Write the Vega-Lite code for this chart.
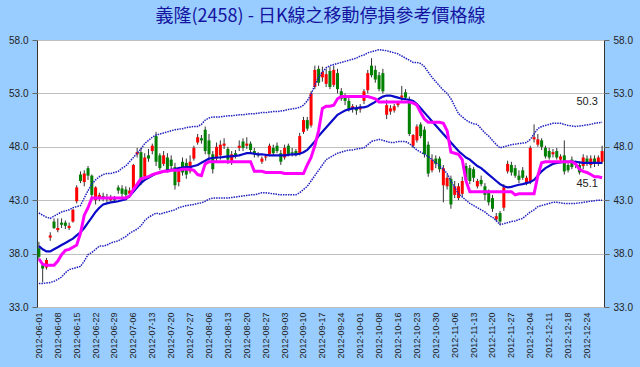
{
"$schema": "https://vega.github.io/schema/vega-lite/v6.json",
"width": 567, "height": 267,
"autosize": {"type": "none"},
"padding": {"left": 37, "right": 36, "top": 40, "bottom": 60},
"background": "#99ccff",
"config": {"view": {"fill": "white", "stroke": "#333333", "strokeWidth": 1}},
"title": {"text": "義隆(2458) - 日K線之移動停損參考價格線", "font": "Noto Sans CJK TC", "fontSize": 18, "fontWeight": "normal", "color": "#1414a0", "offset": 9, "anchor": "middle"},
"data": {"values": [
{"d":"2012-06-01","o":38.5,"h":39.1,"l":37.5,"c":37.7,"ma":38.7,"up":41.8,"lo":35.2,"st":37.5},
{"d":"2012-06-04","o":36.9,"h":37.0,"l":35.3,"c":36.6,"ma":38.4,"up":41.6,"lo":35.2,"st":37.0},
{"d":"2012-06-05","o":36.7,"h":37.6,"l":36.5,"c":37.4,"ma":38.2,"up":41.4,"lo":35.25,"st":36.9},
{"d":"2012-06-06","o":39.5,"h":40.0,"l":39.2,"c":39.7,"ma":38.2,"up":41.3,"lo":35.3,"st":36.9},
{"d":"2012-06-07","o":41.0,"h":41.3,"l":40.3,"c":40.4,"ma":38.4,"up":41.5,"lo":35.4,"st":36.9},
{"d":"2012-06-08","o":40.2,"h":41.3,"l":40.0,"c":40.4,"ma":38.6,"up":41.7,"lo":35.6,"st":37.3},
{"d":"2012-06-11","o":40.9,"h":41.3,"l":40.4,"c":40.7,"ma":38.8,"up":41.9,"lo":35.8,"st":37.9},
{"d":"2012-06-12","o":40.9,"h":41.1,"l":40.3,"c":40.6,"ma":39.0,"up":42.0,"lo":36.2,"st":38.3},
{"d":"2012-06-13","o":40.4,"h":40.9,"l":40.2,"c":40.6,"ma":39.2,"up":42.1,"lo":36.5,"st":38.4},
{"d":"2012-06-14","o":41.0,"h":42.2,"l":40.9,"c":42.1,"ma":39.4,"up":42.3,"lo":36.6,"st":38.6},
{"d":"2012-06-15","o":42.9,"h":44.4,"l":42.7,"c":44.2,"ma":39.7,"up":42.4,"lo":36.7,"st":38.8},
{"d":"2012-06-18","o":45.4,"h":45.7,"l":44.6,"c":44.8,"ma":40.0,"up":42.5,"lo":36.8,"st":39.9},
{"d":"2012-06-19","o":44.7,"h":45.8,"l":44.3,"c":45.5,"ma":40.4,"up":43.2,"lo":37.3,"st":41.6},
{"d":"2012-06-20","o":46.0,"h":46.2,"l":44.9,"c":45.3,"ma":40.9,"up":43.9,"lo":37.9,"st":42.3},
{"d":"2012-06-21","o":45.3,"h":45.4,"l":43.3,"c":43.5,"ma":41.4,"up":44.5,"lo":38.1,"st":43.2},
{"d":"2012-06-22","o":43.0,"h":44.3,"l":42.6,"c":44.2,"ma":41.9,"up":44.9,"lo":38.4,"st":43.2},
{"d":"2012-06-25","o":43.2,"h":43.7,"l":42.9,"c":43.5,"ma":42.3,"up":45.2,"lo":38.7,"st":43.2},
{"d":"2012-06-26","o":43.4,"h":43.7,"l":42.9,"c":43.2,"ma":42.6,"up":45.4,"lo":38.7,"st":43.2},
{"d":"2012-06-27","o":43.3,"h":43.6,"l":42.8,"c":43.1,"ma":42.7,"up":45.5,"lo":38.8,"st":43.2},
{"d":"2012-06-28","o":43.0,"h":43.5,"l":42.9,"c":43.2,"ma":42.8,"up":45.5,"lo":39.0,"st":43.2},
{"d":"2012-06-29","o":43.1,"h":43.4,"l":42.8,"c":43.0,"ma":42.85,"up":45.6,"lo":39.1,"st":43.2},
{"d":"2012-07-02","o":44.2,"h":44.4,"l":43.6,"c":43.9,"ma":42.9,"up":45.7,"lo":39.2,"st":43.2},
{"d":"2012-07-03","o":44.1,"h":44.4,"l":43.2,"c":43.6,"ma":43.0,"up":46.0,"lo":39.4,"st":43.2},
{"d":"2012-07-04","o":44.0,"h":44.3,"l":43.0,"c":43.5,"ma":43.1,"up":46.2,"lo":39.6,"st":43.2},
{"d":"2012-07-05","o":43.6,"h":44.2,"l":43.2,"c":43.9,"ma":43.4,"up":46.6,"lo":39.9,"st":43.4},
{"d":"2012-07-06","o":44.0,"h":46.4,"l":43.9,"c":46.3,"ma":43.8,"up":47.0,"lo":40.1,"st":44.0},
{"d":"2012-07-09","o":47.3,"h":47.9,"l":47.0,"c":47.5,"ma":44.2,"up":47.4,"lo":40.3,"st":44.5},
{"d":"2012-07-10","o":47.5,"h":47.9,"l":44.4,"c":44.6,"ma":44.6,"up":47.8,"lo":40.6,"st":45.0},
{"d":"2012-07-11","o":45.2,"h":47.4,"l":44.8,"c":47.0,"ma":44.9,"up":48.3,"lo":41.1,"st":45.1},
{"d":"2012-07-12","o":47.2,"h":47.8,"l":46.6,"c":46.9,"ma":45.1,"up":48.6,"lo":41.4,"st":45.2},
{"d":"2012-07-13","o":47.6,"h":48.3,"l":47.3,"c":48.1,"ma":45.3,"up":48.9,"lo":41.6,"st":45.4},
{"d":"2012-07-16","o":49.0,"h":49.4,"l":46.2,"c":46.6,"ma":45.5,"up":49.1,"lo":41.8,"st":45.5},
{"d":"2012-07-17","o":47.2,"h":47.4,"l":45.8,"c":46.0,"ma":45.6,"up":49.2,"lo":41.7,"st":45.6},
{"d":"2012-07-18","o":46.4,"h":47.6,"l":46.2,"c":47.2,"ma":45.7,"up":49.3,"lo":41.8,"st":45.7},
{"d":"2012-07-19","o":47.0,"h":47.4,"l":45.6,"c":45.8,"ma":45.8,"up":49.4,"lo":41.9,"st":45.7},
{"d":"2012-07-20","o":46.8,"h":47.2,"l":45.9,"c":46.2,"ma":45.85,"up":49.5,"lo":42.0,"st":45.8},
{"d":"2012-07-23","o":46.1,"h":46.5,"l":44.0,"c":44.4,"ma":45.9,"up":49.6,"lo":42.1,"st":45.8},
{"d":"2012-07-24","o":44.7,"h":46.0,"l":44.3,"c":45.8,"ma":46.0,"up":49.65,"lo":42.3,"st":45.8},
{"d":"2012-07-25","o":46.6,"h":47.0,"l":45.3,"c":45.6,"ma":46.05,"up":49.7,"lo":42.4,"st":45.9},
{"d":"2012-07-26","o":46.5,"h":46.9,"l":45.0,"c":45.4,"ma":46.1,"up":49.8,"lo":42.5,"st":45.9},
{"d":"2012-07-27","o":45.7,"h":47.2,"l":45.5,"c":46.6,"ma":46.1,"up":49.85,"lo":42.55,"st":45.9},
{"d":"2012-07-30","o":46.9,"h":48.1,"l":46.7,"c":47.9,"ma":46.2,"up":49.9,"lo":42.6,"st":45.8},
{"d":"2012-07-31","o":48.4,"h":49.2,"l":48.2,"c":48.9,"ma":46.3,"up":49.9,"lo":42.7,"st":45.4},
{"d":"2012-08-01","o":48.8,"h":49.1,"l":48.3,"c":48.6,"ma":46.5,"up":50.1,"lo":42.75,"st":45.3},
{"d":"2012-08-03","o":49.6,"h":49.9,"l":47.3,"c":47.6,"ma":46.7,"up":50.5,"lo":42.9,"st":46.4},
{"d":"2012-08-06","o":48.6,"h":49.2,"l":46.6,"c":47.3,"ma":46.9,"up":50.7,"lo":43.1,"st":46.6},
{"d":"2012-08-07","o":47.3,"h":47.6,"l":45.5,"c":45.9,"ma":46.95,"up":50.8,"lo":43.2,"st":46.6},
{"d":"2012-08-08","o":46.9,"h":48.4,"l":46.6,"c":48.0,"ma":47.0,"up":50.8,"lo":43.2,"st":46.6},
{"d":"2012-08-09","o":47.2,"h":48.6,"l":46.8,"c":48.2,"ma":47.0,"up":50.8,"lo":43.2,"st":46.6},
{"d":"2012-08-10","o":48.1,"h":48.8,"l":47.8,"c":48.3,"ma":47.05,"up":50.85,"lo":43.2,"st":46.6},
{"d":"2012-08-13","o":47.8,"h":48.0,"l":46.4,"c":46.8,"ma":47.1,"up":50.9,"lo":43.2,"st":46.6},
{"d":"2012-08-14","o":46.6,"h":47.6,"l":46.3,"c":47.3,"ma":47.1,"up":50.9,"lo":43.25,"st":46.6},
{"d":"2012-08-15","o":47.4,"h":47.7,"l":46.9,"c":47.2,"ma":47.15,"up":50.95,"lo":43.3,"st":46.6},
{"d":"2012-08-16","o":47.9,"h":48.6,"l":47.6,"c":48.1,"ma":47.2,"up":51.0,"lo":43.35,"st":46.6},
{"d":"2012-08-17","o":48.5,"h":48.8,"l":47.6,"c":47.9,"ma":47.3,"up":51.0,"lo":43.4,"st":46.6},
{"d":"2012-08-20","o":48.1,"h":48.9,"l":47.8,"c":48.3,"ma":47.4,"up":51.05,"lo":43.45,"st":46.6},
{"d":"2012-08-21","o":48.3,"h":48.5,"l":47.4,"c":47.7,"ma":47.4,"up":51.1,"lo":43.5,"st":46.6},
{"d":"2012-08-22","o":47.6,"h":47.9,"l":47.0,"c":47.3,"ma":47.35,"up":51.1,"lo":43.5,"st":45.7},
{"d":"2012-08-23","o":47.3,"h":47.5,"l":47.0,"c":47.2,"ma":47.3,"up":51.15,"lo":43.6,"st":45.7},
{"d":"2012-08-24","o":46.6,"h":47.1,"l":46.4,"c":46.9,"ma":47.3,"up":51.2,"lo":43.7,"st":45.7},
{"d":"2012-08-27","o":47.0,"h":47.3,"l":46.7,"c":47.1,"ma":47.25,"up":51.2,"lo":43.7,"st":45.6},
{"d":"2012-08-28","o":47.3,"h":48.3,"l":47.1,"c":48.1,"ma":47.2,"up":51.25,"lo":43.65,"st":45.6},
{"d":"2012-08-29","o":47.9,"h":48.2,"l":47.2,"c":47.4,"ma":47.2,"up":51.3,"lo":43.6,"st":45.6},
{"d":"2012-08-30","o":48.1,"h":48.4,"l":47.4,"c":47.6,"ma":47.2,"up":51.3,"lo":43.55,"st":45.6},
{"d":"2012-08-31","o":47.4,"h":47.7,"l":46.3,"c":46.6,"ma":47.2,"up":51.35,"lo":43.5,"st":45.6},
{"d":"2012-09-03","o":47.0,"h":48.2,"l":46.8,"c":47.9,"ma":47.2,"up":51.4,"lo":43.5,"st":45.5},
{"d":"2012-09-04","o":48.1,"h":48.3,"l":47.1,"c":47.3,"ma":47.25,"up":51.5,"lo":43.5,"st":45.5},
{"d":"2012-09-05","o":47.5,"h":47.9,"l":47.1,"c":47.4,"ma":47.3,"up":51.55,"lo":43.5,"st":45.5},
{"d":"2012-09-06","o":47.6,"h":47.8,"l":47.1,"c":47.3,"ma":47.3,"up":51.6,"lo":43.5,"st":45.5},
{"d":"2012-09-07","o":47.4,"h":49.3,"l":47.2,"c":49.0,"ma":47.35,"up":51.7,"lo":43.7,"st":45.5},
{"d":"2012-09-10","o":49.4,"h":50.8,"l":49.2,"c":50.5,"ma":47.5,"up":51.9,"lo":44.0,"st":45.5},
{"d":"2012-09-11","o":50.5,"h":50.8,"l":49.5,"c":49.7,"ma":47.7,"up":52.3,"lo":44.3,"st":46.3},
{"d":"2012-09-12","o":50.0,"h":53.2,"l":49.8,"c":53.0,"ma":48.1,"up":52.9,"lo":44.8,"st":47.0},
{"d":"2012-09-13","o":53.6,"h":55.6,"l":53.4,"c":55.2,"ma":48.5,"up":53.8,"lo":45.3,"st":48.1},
{"d":"2012-09-14","o":55.3,"h":55.6,"l":53.7,"c":54.0,"ma":49.0,"up":54.5,"lo":45.8,"st":49.5},
{"d":"2012-09-17","o":54.5,"h":55.5,"l":54.1,"c":55.0,"ma":49.4,"up":55.0,"lo":46.3,"st":51.6},
{"d":"2012-09-18","o":53.9,"h":55.3,"l":53.6,"c":54.8,"ma":49.8,"up":55.4,"lo":46.8,"st":51.8},
{"d":"2012-09-19","o":55.1,"h":55.5,"l":53.4,"c":53.6,"ma":50.2,"up":55.6,"lo":47.0,"st":51.8},
{"d":"2012-09-20","o":53.8,"h":55.6,"l":53.6,"c":55.2,"ma":50.6,"up":55.7,"lo":47.2,"st":51.9},
{"d":"2012-09-21","o":54.9,"h":55.3,"l":53.0,"c":53.4,"ma":51.0,"up":55.8,"lo":47.4,"st":52.5},
{"d":"2012-09-24","o":53.2,"h":53.5,"l":52.3,"c":52.5,"ma":51.2,"up":55.9,"lo":47.5,"st":52.7},
{"d":"2012-09-25","o":52.6,"h":53.0,"l":51.9,"c":52.3,"ma":51.4,"up":56.0,"lo":47.6,"st":52.7},
{"d":"2012-09-26","o":52.3,"h":52.6,"l":51.3,"c":51.5,"ma":51.5,"up":56.1,"lo":47.7,"st":52.7},
{"d":"2012-09-27","o":51.6,"h":52.0,"l":51.2,"c":51.8,"ma":51.6,"up":56.2,"lo":47.7,"st":52.7},
{"d":"2012-09-28","o":51.7,"h":51.9,"l":51.0,"c":51.4,"ma":51.6,"up":56.3,"lo":47.8,"st":52.7},
{"d":"2012-10-01","o":51.5,"h":52.0,"l":51.2,"c":51.7,"ma":51.7,"up":56.5,"lo":47.85,"st":52.7},
{"d":"2012-10-02","o":52.3,"h":53.4,"l":52.0,"c":53.2,"ma":51.7,"up":56.6,"lo":47.9,"st":52.7},
{"d":"2012-10-03","o":53.3,"h":55.2,"l":53.0,"c":54.9,"ma":51.8,"up":56.8,"lo":48.2,"st":52.7},
{"d":"2012-10-04","o":55.6,"h":56.3,"l":54.5,"c":54.7,"ma":52.0,"up":56.9,"lo":48.5,"st":52.6},
{"d":"2012-10-05","o":55.2,"h":55.6,"l":54.0,"c":54.3,"ma":52.2,"up":57.0,"lo":48.6,"st":52.5},
{"d":"2012-10-08","o":54.7,"h":55.0,"l":53.2,"c":53.4,"ma":52.5,"up":57.1,"lo":48.7,"st":52.2},
{"d":"2012-10-09","o":54.9,"h":55.3,"l":53.0,"c":53.2,"ma":52.7,"up":57.05,"lo":48.6,"st":52.2},
{"d":"2012-10-11","o":51.0,"h":52.4,"l":50.6,"c":51.9,"ma":52.8,"up":57.0,"lo":48.5,"st":52.2},
{"d":"2012-10-12","o":51.3,"h":51.9,"l":51.0,"c":51.6,"ma":52.8,"up":56.9,"lo":48.4,"st":52.2},
{"d":"2012-10-15","o":51.4,"h":52.0,"l":51.2,"c":51.8,"ma":52.7,"up":56.8,"lo":48.4,"st":52.2},
{"d":"2012-10-16","o":51.9,"h":52.2,"l":51.7,"c":52.1,"ma":52.6,"up":56.7,"lo":48.5,"st":52.2},
{"d":"2012-10-17","o":52.6,"h":53.7,"l":52.3,"c":52.8,"ma":52.5,"up":56.5,"lo":48.5,"st":52.2},
{"d":"2012-10-18","o":53.1,"h":53.4,"l":52.4,"c":52.6,"ma":52.45,"up":56.3,"lo":48.5,"st":52.2},
{"d":"2012-10-19","o":52.4,"h":52.7,"l":49.0,"c":49.2,"ma":52.4,"up":56.1,"lo":48.3,"st":52.2},
{"d":"2012-10-22","o":48.1,"h":49.2,"l":47.9,"c":49.1,"ma":52.3,"up":55.9,"lo":48.0,"st":52.1},
{"d":"2012-10-23","o":48.6,"h":50.1,"l":48.4,"c":49.9,"ma":52.0,"up":55.9,"lo":47.7,"st":51.9},
{"d":"2012-10-24","o":50.1,"h":50.3,"l":48.8,"c":49.0,"ma":51.6,"up":55.8,"lo":47.5,"st":51.2},
{"d":"2012-10-25","o":49.6,"h":49.9,"l":47.0,"c":47.3,"ma":51.2,"up":55.5,"lo":47.3,"st":50.6},
{"d":"2012-10-26","o":48.2,"h":48.5,"l":45.2,"c":45.5,"ma":50.8,"up":55.0,"lo":47.1,"st":50.3},
{"d":"2012-10-29","o":45.8,"h":47.3,"l":45.6,"c":46.8,"ma":50.4,"up":54.5,"lo":46.8,"st":50.3},
{"d":"2012-10-30","o":46.9,"h":47.2,"l":46.0,"c":46.4,"ma":50.0,"up":54.1,"lo":46.5,"st":50.3},
{"d":"2012-10-31","o":46.9,"h":47.1,"l":45.6,"c":45.9,"ma":49.6,"up":53.7,"lo":46.2,"st":50.3},
{"d":"2012-11-01","o":44.4,"h":46.3,"l":42.8,"c":46.0,"ma":49.2,"up":53.3,"lo":45.9,"st":50.2},
{"d":"2012-11-02","o":44.3,"h":45.4,"l":44.0,"c":45.1,"ma":48.8,"up":53.0,"lo":45.5,"st":49.5},
{"d":"2012-11-05","o":45.0,"h":45.3,"l":42.2,"c":42.6,"ma":48.4,"up":52.5,"lo":44.8,"st":47.5},
{"d":"2012-11-06","o":43.5,"h":44.8,"l":43.2,"c":44.3,"ma":48.0,"up":51.8,"lo":44.2,"st":47.4},
{"d":"2012-11-07","o":43.2,"h":44.6,"l":43.0,"c":44.3,"ma":47.6,"up":51.1,"lo":43.6,"st":47.3},
{"d":"2012-11-08","o":43.6,"h":45.2,"l":43.3,"c":44.8,"ma":47.3,"up":50.8,"lo":43.3,"st":46.8},
{"d":"2012-11-09","o":46.2,"h":46.5,"l":44.6,"c":44.9,"ma":47.0,"up":50.5,"lo":43.0,"st":44.8},
{"d":"2012-11-12","o":46.0,"h":46.3,"l":44.5,"c":44.8,"ma":46.8,"up":50.3,"lo":42.7,"st":43.8},
{"d":"2012-11-13","o":45.9,"h":46.1,"l":44.7,"c":45.1,"ma":46.5,"up":50.15,"lo":42.5,"st":43.8},
{"d":"2012-11-14","o":44.3,"h":45.0,"l":44.1,"c":44.8,"ma":46.2,"up":50.1,"lo":42.3,"st":43.8},
{"d":"2012-11-15","o":44.9,"h":45.3,"l":44.3,"c":44.5,"ma":46.0,"up":49.7,"lo":42.1,"st":43.8},
{"d":"2012-11-16","o":44.3,"h":44.6,"l":43.0,"c":43.5,"ma":45.7,"up":49.3,"lo":41.9,"st":43.8},
{"d":"2012-11-19","o":43.8,"h":44.0,"l":42.5,"c":42.8,"ma":45.4,"up":49.0,"lo":41.6,"st":43.8},
{"d":"2012-11-20","o":43.2,"h":43.5,"l":41.9,"c":42.2,"ma":45.1,"up":48.6,"lo":41.4,"st":43.8},
{"d":"2012-11-21","o":41.2,"h":41.8,"l":41.0,"c":41.5,"ma":44.8,"up":48.2,"lo":41.1,"st":43.8},
{"d":"2012-11-22","o":41.8,"h":42.0,"l":40.7,"c":41.0,"ma":44.5,"up":47.9,"lo":40.7,"st":43.8},
{"d":"2012-11-23","o":42.3,"h":44.5,"l":42.0,"c":44.2,"ma":44.3,"up":48.0,"lo":40.8,"st":43.8},
{"d":"2012-11-26","o":45.7,"h":46.7,"l":45.5,"c":46.4,"ma":44.2,"up":48.1,"lo":40.9,"st":43.8},
{"d":"2012-11-27","o":46.3,"h":46.6,"l":45.3,"c":45.6,"ma":44.25,"up":48.2,"lo":41.0,"st":43.8},
{"d":"2012-11-28","o":46.0,"h":46.3,"l":45.1,"c":45.3,"ma":44.35,"up":48.25,"lo":41.05,"st":43.5},
{"d":"2012-11-29","o":45.3,"h":45.8,"l":44.6,"c":44.9,"ma":44.45,"up":48.3,"lo":41.2,"st":43.6},
{"d":"2012-11-30","o":45.8,"h":46.1,"l":44.9,"c":45.1,"ma":44.5,"up":48.35,"lo":41.3,"st":43.6},
{"d":"2012-12-03","o":44.6,"h":45.3,"l":44.4,"c":45.1,"ma":44.6,"up":48.4,"lo":41.6,"st":43.6},
{"d":"2012-12-04","o":44.7,"h":48.1,"l":44.5,"c":47.9,"ma":44.7,"up":48.7,"lo":41.9,"st":43.6},
{"d":"2012-12-05","o":48.7,"h":50.1,"l":48.4,"c":48.9,"ma":44.9,"up":49.2,"lo":42.1,"st":43.6},
{"d":"2012-12-06","o":48.2,"h":49.2,"l":48.0,"c":48.7,"ma":45.3,"up":49.7,"lo":42.4,"st":45.3},
{"d":"2012-12-07","o":48.6,"h":48.8,"l":47.7,"c":48.0,"ma":45.7,"up":49.9,"lo":42.5,"st":46.5},
{"d":"2012-12-10","o":47.9,"h":48.1,"l":46.9,"c":47.1,"ma":46.0,"up":50.0,"lo":42.6,"st":46.6},
{"d":"2012-12-11","o":47.6,"h":47.9,"l":46.8,"c":47.0,"ma":46.2,"up":50.1,"lo":42.7,"st":46.6},
{"d":"2012-12-12","o":47.3,"h":47.8,"l":47.0,"c":47.5,"ma":46.4,"up":50.2,"lo":42.8,"st":46.6},
{"d":"2012-12-13","o":47.6,"h":47.9,"l":46.8,"c":47.0,"ma":46.5,"up":50.2,"lo":42.8,"st":46.6},
{"d":"2012-12-14","o":46.8,"h":47.3,"l":46.6,"c":47.1,"ma":46.55,"up":50.2,"lo":42.75,"st":46.6},
{"d":"2012-12-17","o":47.2,"h":48.6,"l":45.4,"c":45.7,"ma":46.6,"up":50.1,"lo":42.7,"st":46.6},
{"d":"2012-12-18","o":46.3,"h":46.6,"l":45.6,"c":45.8,"ma":46.6,"up":50.0,"lo":42.7,"st":46.6},
{"d":"2012-12-19","o":46.8,"h":47.1,"l":45.9,"c":46.1,"ma":46.6,"up":49.95,"lo":42.7,"st":46.6},
{"d":"2012-12-20","o":46.3,"h":46.7,"l":46.0,"c":46.4,"ma":46.6,"up":49.9,"lo":42.7,"st":46.4},
{"d":"2012-12-21","o":46.3,"h":46.6,"l":45.4,"c":45.6,"ma":46.55,"up":49.95,"lo":42.75,"st":45.9},
{"d":"2012-12-22","o":46.2,"h":47.3,"l":45.9,"c":47.0,"ma":46.5,"up":50.0,"lo":42.8,"st":45.7},
{"d":"2012-12-24","o":46.9,"h":47.2,"l":46.2,"c":46.4,"ma":46.5,"up":50.05,"lo":42.85,"st":45.6},
{"d":"2012-12-25","o":46.3,"h":47.2,"l":46.0,"c":46.9,"ma":46.5,"up":50.1,"lo":42.9,"st":45.4},
{"d":"2012-12-26","o":46.9,"h":47.2,"l":46.1,"c":46.4,"ma":46.5,"up":50.2,"lo":42.95,"st":45.2},
{"d":"2012-12-27","o":46.4,"h":47.2,"l":46.2,"c":47.0,"ma":46.5,"up":50.25,"lo":43.0,"st":45.2},
{"d":"2012-12-28","o":46.6,"h":48.1,"l":46.4,"c":47.6,"ma":46.5,"up":50.3,"lo":43.0,"st":45.1}
]},
"encoding": {
  "x": {"field": "d", "type": "ordinal",
    "scale": {"paddingInner": 0.2, "paddingOuter": 0.1},
    "axis": {"title": null, "labelAngle": 270, "labelFontSize": 9, "labelFont": "Liberation Sans", "labelColor": "#222222", "ticks": false, "domain": false, "grid": false, "labelPadding": 5, "labelOverlap": false,
      "values": ["2012-06-01","2012-06-08","2012-06-15","2012-06-22","2012-06-29","2012-07-06","2012-07-13","2012-07-20","2012-07-27","2012-08-06","2012-08-13","2012-08-20","2012-08-27","2012-09-03","2012-09-10","2012-09-17","2012-09-24","2012-10-01","2012-10-08","2012-10-16","2012-10-23","2012-10-30","2012-11-06","2012-11-13","2012-11-20","2012-11-27","2012-12-04","2012-12-11","2012-12-18","2012-12-24"]}}
},
"layer": [
  {"mark": {"type": "rule", "color": "#333333", "strokeWidth": 1},
   "encoding": {
     "y": {"field": "l", "type": "quantitative", "scale": {"domain": [33, 58], "nice": false, "zero": false},
       "axis": {"orient": "left", "title": null, "values": [33, 38, 43, 48, 53, 58], "format": ".1f", "grid": true, "gridColor": "#c0c0c0", "gridWidth": 1, "domain": false, "tickSize": 5, "tickColor": "#666666", "labelPadding": 4, "labelFontSize": 10, "labelFont": "Liberation Sans", "labelColor": "#222222"}},
     "y2": {"field": "h"}}},
  {"mark": {"type": "bar"},
   "encoding": {
     "y": {"field": "o", "type": "quantitative",
       "axis": {"orient": "right", "title": null, "values": [33, 38, 43, 48, 53, 58], "format": ".1f", "grid": false, "domain": false, "tickSize": 5, "tickColor": "#666666", "labelPadding": 4, "labelFontSize": 10, "labelFont": "Liberation Sans", "labelColor": "#222222"}},
     "y2": {"field": "c"},
     "color": {"condition": {"test": "datum.c >= datum.o", "value": "#ff0000"}, "value": "#008000"}}},
  {"mark": {"type": "line", "color": "#2020c0", "strokeWidth": 1.5, "strokeDash": [1.5, 1]},
   "encoding": {"y": {"field": "up", "type": "quantitative", "axis": null}}},
  {"mark": {"type": "line", "color": "#2020c0", "strokeWidth": 1.5, "strokeDash": [1.5, 1]},
   "encoding": {"y": {"field": "lo", "type": "quantitative", "axis": null}}},
  {"mark": {"type": "line", "color": "#0a0ac8", "strokeWidth": 2.2},
   "encoding": {"y": {"field": "ma", "type": "quantitative", "axis": null}}},
  {"mark": {"type": "line", "color": "#ff00ff", "strokeWidth": 3},
   "encoding": {"y": {"field": "st", "type": "quantitative", "axis": null}}},
  {"transform": [{"filter": "datum.d == '2012-12-28'"}],
   "mark": {"type": "text", "font": "Liberation Sans", "fontSize": 11, "color": "#222222", "dx": -15, "dy": -20},
   "encoding": {"y": {"field": "up", "type": "quantitative", "axis": null}, "text": {"field": "up", "format": ".1f"}}},
  {"transform": [{"filter": "datum.d == '2012-12-28'"}],
   "mark": {"type": "text", "font": "Liberation Sans", "fontSize": 11, "color": "#222222", "dx": -15, "dy": 6},
   "encoding": {"y": {"field": "st", "type": "quantitative", "axis": null}, "text": {"field": "st", "format": ".1f"}}}
],
"resolve": {"axis": {"y": "independent"}}
}
